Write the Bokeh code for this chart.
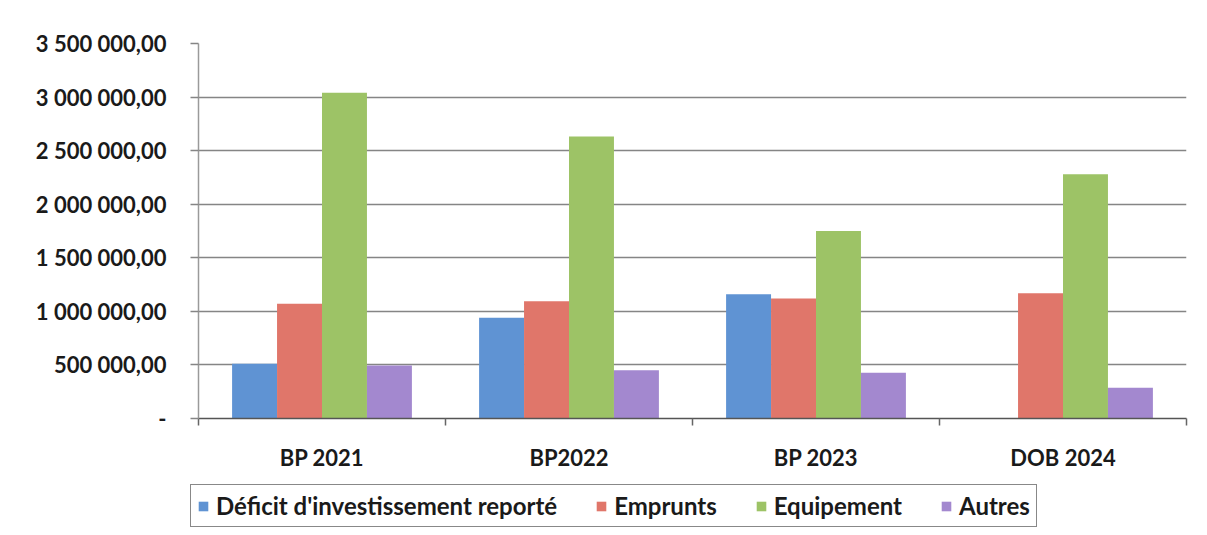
from bokeh.plotting import figure
from bokeh.models import FixedTicker, CustomJSTickFormatter, Legend, LegendItem, Range1d, ColumnDataSource
from bokeh.embed import file_html
from bokeh.resources import INLINE
import numpy as np

categories = ["BP 2021", "BP2022", "BP 2023", "DOB 2024"]
series_names = ["Déficit d'investissement reporté", "Emprunts", "Equipement", "Autres"]
deficit = [510000, 940000, 1160000, 0]
emprunts = [1070000, 1095000, 1120000, 1168000]
equipement = [3040000, 2632000, 1750000, 2280000]
autres = [495000, 451000, 426000, 286000]
y_ticks = [0, 500000, 1000000, 1500000, 2000000, 2500000, 3000000, 3500000]

colors = ["#5f93d3", "#e0766a", "#9dc366", "#a388cf"]
values = [deficit, emprunts, equipement, autres]

FONT = "Lato"

p = figure(width=1201, height=478, frame_width=988, frame_height=375,
           min_border_left=198, min_border_right=15, min_border_top=43, min_border_bottom=60,
           output_backend="svg", toolbar_location=None,
           x_range=Range1d(0, len(categories)), y_range=Range1d(0, 3500000))
p.outline_line_color = None
p.background_fill_color = "white"
p.border_fill_color = "white"

bar_w = 0.182
offsets = [-1.5 * bar_w, -0.5 * bar_w, 0.5 * bar_w, 1.5 * bar_w]
centers = np.arange(len(categories)) + 0.5

for name, vals, col, off in zip(series_names, values, colors, offsets):
    src = ColumnDataSource(dict(x=centers + off, top=vals))
    p.vbar(x="x", top="top", width=bar_w, source=src, fill_color=col, line_color=None)

# grid
p.xgrid.grid_line_color = None
p.ygrid.grid_line_color = "#858585"
p.ygrid.grid_line_width = 1.5
p.ygrid.ticker = FixedTicker(ticks=y_ticks)

# y axis
p.yaxis.ticker = FixedTicker(ticks=y_ticks)
p.yaxis.formatter = CustomJSTickFormatter(code="""
if (tick == 0) { return "-"; }
const s = Math.round(tick).toString().replace(/\\B(?=(\\d{3})+(?!\\d))/g, " ");
return s + ",00";
""")
p.yaxis.axis_line_color = "#9a9a9a"
p.yaxis.axis_line_width = 1.5
p.yaxis.major_tick_line_color = "#858585"
p.yaxis.major_tick_line_width = 1.5
p.yaxis.major_tick_out = 8
p.yaxis.major_tick_in = 0
p.yaxis.minor_tick_line_color = None
p.yaxis.major_label_standoff = 24
p.yaxis.major_label_text_font = FONT
p.yaxis.major_label_text_font_style = "bold"
p.yaxis.major_label_text_font_size = "22px"
p.yaxis.major_label_text_color = "#1a1a1a"

# x axis
p.xaxis.ticker = FixedTicker(ticks=list(centers), minor_ticks=list(range(len(categories) + 1)))
p.xaxis.major_label_overrides = {float(c): lab for c, lab in zip(centers, categories)}
p.xaxis.axis_line_color = "#555555"
p.xaxis.axis_line_width = 1.5
p.xaxis.major_tick_line_color = None
p.xaxis.major_tick_out = 0
p.xaxis.major_tick_in = 0
p.xaxis.minor_tick_line_color = "#666666"
p.xaxis.minor_tick_line_width = 1.5
p.xaxis.minor_tick_out = 7
p.xaxis.minor_tick_in = 0
p.xaxis.major_label_standoff = 18
p.xaxis.major_label_text_font = FONT
p.xaxis.major_label_text_font_style = "bold"
p.xaxis.major_label_text_font_size = "22px"
p.xaxis.major_label_text_color = "#1a1a1a"

# legend strip (separate root below the chart)
lg = figure(width=1201, height=57, min_border=0, output_backend="svg", toolbar_location=None,
            x_range=Range1d(0, 1), y_range=Range1d(0, 1))
lg.outline_line_color = None
lg.axis.visible = False
lg.grid.visible = False
lg.background_fill_color = "white"
lg.border_fill_color = "white"
proxies = []
for name, col in zip(series_names, colors):
    src = ColumnDataSource(dict(x=[-10], top=[0]))
    proxies.append(lg.vbar(x="x", top="top", width=0.1, source=src, fill_color=col, line_color=None))

legend = Legend(items=[LegendItem(label=n, renderers=[r]) for n, r in zip(series_names, proxies)],
                orientation="horizontal", location=(190, 8))
legend.border_line_color = "#111111"
legend.border_line_width = 1.5
legend.background_fill_color = "white"
legend.label_text_font = FONT
legend.label_text_font_style = "bold"
legend.label_text_font_size = "24px"
legend.label_text_color = "#1a1a1a"
legend.glyph_width = 12
legend.glyph_height = 12
legend.label_standoff = 7
legend.spacing = 38
legend.padding = 6
legend.margin = 0
lg.add_layout(legend, "center")

open("out.html", "w").write(file_html([p, lg], INLINE))
